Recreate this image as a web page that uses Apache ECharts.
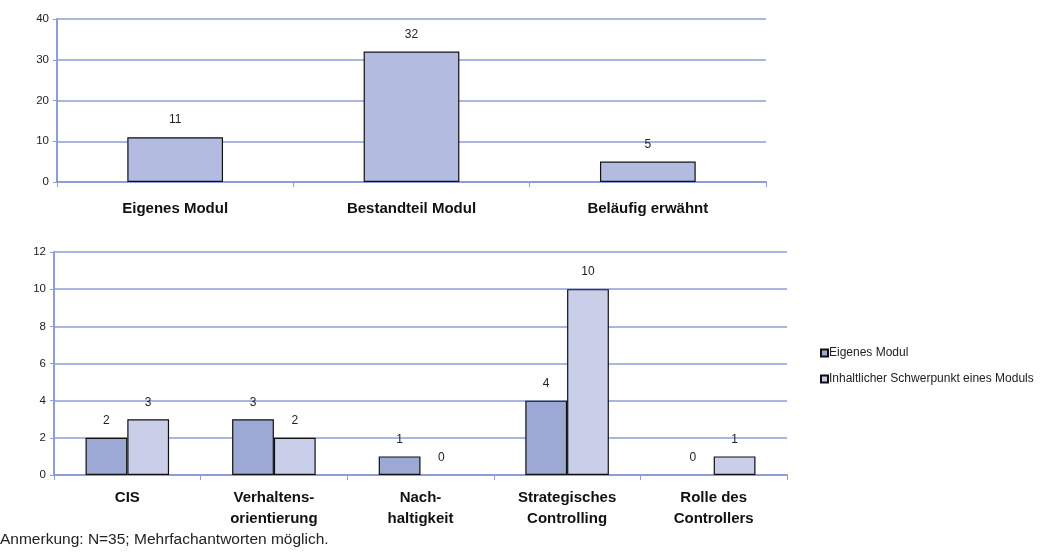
<!DOCTYPE html>
<html><head><meta charset="utf-8">
<script src="https://cdn.jsdelivr.net/npm/echarts@6/dist/echarts.min.js"></script>
<style>html,body{margin:0;padding:0;background:#fff}#c{width:1062px;height:557px}</style>
</head><body><div id="c"></div>
<script>
const topCategories = ['Eigenes Modul', 'Bestandteil Modul', 'Beläufig erwähnt'];
const topValues = [11, 32, 5];
const bottomCategories = ['CIS', 'Verhaltens-\norientierung', 'Nach-\nhaltigkeit', 'Strategisches\nControlling', 'Rolle des\nControllers'];
const seriesNames = ['Eigenes Modul', 'Inhaltlicher Schwerpunkt eines Moduls'];
const eigenesModul = [2, 3, 1, 4, 0];
const schwerpunkt = [3, 2, 0, 10, 1];
const topTicks = {min: 0, max: 40, interval: 10};
const bottomTicks = {min: 0, max: 12, interval: 2};

const font = 'Liberation Sans, Arial, sans-serif';
const gridColor = '#8e9dd6';
const chart = echarts.init(document.getElementById('c'), null, {renderer: 'canvas'});
const valueAxis = (gi, t) => ({
  type: 'value', gridIndex: gi, min: t.min, max: t.max, interval: t.interval,
  axisLine: {show: true, lineStyle: {color: gridColor, width: 2}},
  axisTick: {show: true, length: 4, lineStyle: {color: gridColor}},
  splitLine: {lineStyle: {color: gridColor, width: 1.5}},
  axisLabel: {color: '#222', fontFamily: font, fontSize: 11.5, margin: 8}
});
const catAxis = (gi, cats, margin) => ({
  type: 'category', gridIndex: gi, data: cats,
  axisLine: {lineStyle: {color: gridColor, width: 2}},
  axisTick: {show: true, length: 5, lineStyle: {color: gridColor}},
  axisLabel: {color: '#111', fontFamily: font, fontSize: 15, fontWeight: 'bold', margin: margin, lineHeight: 21, interval: 0}
});
const lbl = {show: true, position: 'top', color: '#222', fontFamily: font, fontSize: 12, distance: 11};
const hideZero = arr => arr.map(v => v === 0 ? {value: v, itemStyle: {borderWidth: 0, color: 'rgba(0,0,0,0)'}} : v);
chart.setOption({
  animation: false,
  grid: [
    {left: 57, right: 296, top: 19, height: 163},
    {left: 54, right: 275, top: 252, height: 223}
  ],
  xAxis: [catAxis(0, topCategories, 16), catAxis(1, bottomCategories, 12)],
  yAxis: [valueAxis(0, topTicks), valueAxis(1, bottomTicks)],
  legend: {
    data: seriesNames, orient: 'vertical', left: 815, top: 342, itemGap: 14,
    icon: 'rect', itemWidth: 7, itemHeight: 7,
    textStyle: {fontFamily: font, fontSize: 12, color: '#222', padding: [0, 0, 0, -4]}
  },
  series: [
    {type: 'bar', name: 'top', data: topValues, xAxisIndex: 0, yAxisIndex: 0, barWidth: '40.5%',
     itemStyle: {color: '#b3bbe0', borderColor: '#111', borderWidth: 1.2}, label: lbl},
    {type: 'bar', name: seriesNames[0], data: hideZero(eigenesModul), xAxisIndex: 1, yAxisIndex: 1, barGap: '0%', barCategoryGap: '43%',
     itemStyle: {color: '#9ca9d5', borderColor: '#111', borderWidth: 1.2}, label: lbl},
    {type: 'bar', name: seriesNames[1], data: hideZero(schwerpunkt), xAxisIndex: 1, yAxisIndex: 1, barGap: '0%', barCategoryGap: '43%',
     itemStyle: {color: '#c9cfe8', borderColor: '#111', borderWidth: 1.2}, label: lbl}
  ],
  graphic: [{type: 'text', left: 0, top: 532, style: {text: 'Anmerkung: N=35; Mehrfachantworten möglich.', fontFamily: font, fontSize: 15.5, fill: '#222'}}]
});
</script></body></html>
